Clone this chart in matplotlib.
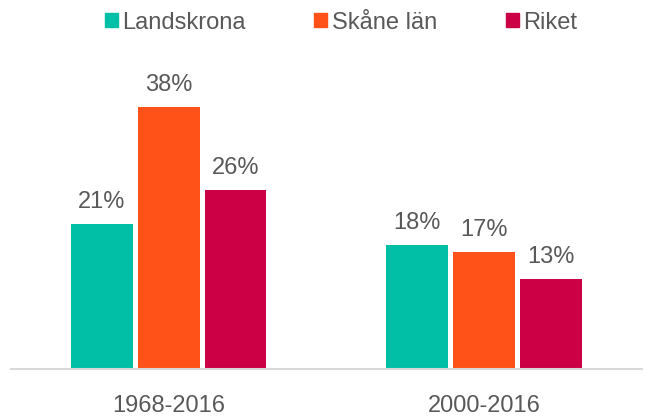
import numpy as np
import matplotlib.pyplot as plt
from matplotlib.patches import Patch

periods = ["1968-2016", "2000-2016"]
series = ["Landskrona", "Skåne län", "Riket"]
landskrona = [0.21, 0.18]
skane = [0.38, 0.17]
riket = [0.26, 0.13]
colors = ["#00BFA6", "#FF5218", "#CC0044"]

plt.rcParams["font.family"] = ["Liberation Sans", "DejaVu Sans"]
text_color = "#595959"

fig = plt.figure(figsize=(6.45, 4.18), dpi=100)
ax = fig.add_axes([0.017, 0.117, 0.978, 0.742])

x = np.arange(len(periods))
width = 0.196
step = 0.212
for i, (vals, c) in enumerate(zip([landskrona, skane, riket], colors)):
    pos = x + (i - 1) * step
    bars = ax.bar(pos, vals, width=width, color=c)
    for b, v in zip(bars, vals):
        ax.text(b.get_x() + b.get_width() / 2, v + 0.016, f"{v*100:.0f}%",
                ha="center", va="bottom", fontsize=17, color=text_color)

ax.set_xlim(-0.5, 1.5)
ax.set_ylim(0, 0.45)
ax.set_xticks(x)
ax.set_xticklabels(periods, fontsize=17, color=text_color)
ax.tick_params(axis="x", length=0, pad=19)
ax.set_yticks([])
for s in ["top", "right", "left"]:
    ax.spines[s].set_visible(False)
ax.spines["bottom"].set_color("#D9D9D9")
ax.spines["bottom"].set_linewidth(1.5)

handles = [Patch(color=c, label=s) for c, s in zip(colors, series)]
leg = fig.legend(handles=handles, loc="upper center", bbox_to_anchor=(0.529, 1.012),
                 ncol=3, frameon=False, fontsize=17, handlelength=0.55,
                 handleheight=0.55, handletextpad=0.2, columnspacing=2.9,
                 borderpad=0.2)
for t in leg.get_texts():
    t.set_color(text_color)

fig.savefig("out.png", dpi=100)
